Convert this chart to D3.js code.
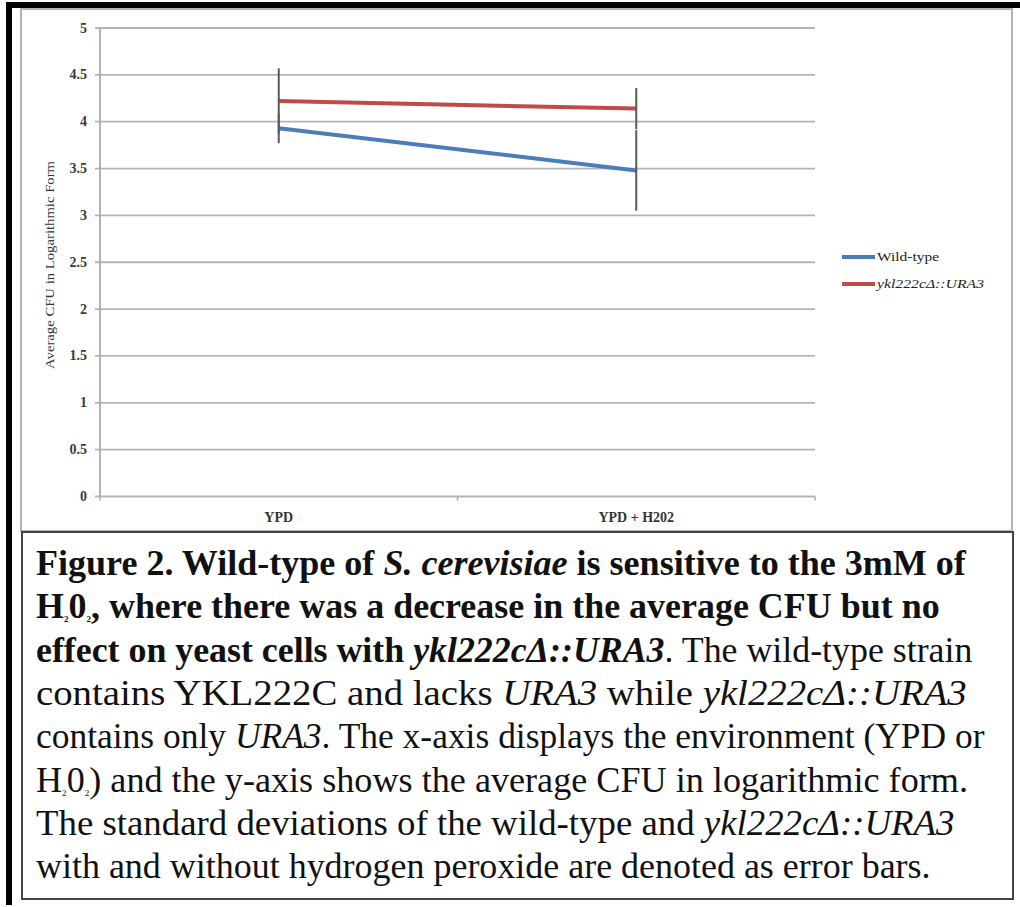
<!DOCTYPE html>
<html>
<head>
<meta charset="utf-8">
<script src="https://cdn.jsdelivr.net/npm/d3@7"></script>
<style>
  html, body { margin: 0; padding: 0; background: #fff; }
  svg { display: block; }
  text { font-family: "Liberation Serif", "Times New Roman", serif; }
</style>
</head>
<body>
<div id="chart"></div>
<script>
// chart values
const categories = ["YPD", "YPD + H202"];
const wildType = [3.93, 3.48];
const wildTypeSD = [0.16, 0.43];
const mutant = [4.22, 4.14];
const mutantSD = [0.35, 0.22];
const yTicks = [0, 0.5, 1, 1.5, 2, 2.5, 3, 3.5, 4, 4.5, 5];
const seriesNames = ["Wild-type", "ykl222cΔ::URA3"];
const seriesColors = ["#4a7ebb", "#be4b48"];

// caption lines: [text, bold, italic, sub]
const captionLines = [
  [["Figure 2. Wild-type of ", 1, 0], ["S. cerevisiae", 1, 1], [" is sensitive to the 3mM of", 1, 0]],
  [["H", 1, 0], ["2", 1, 0, 1], ["0", 1, 0], ["2", 1, 0, 1], [", where there was a decrease in the average CFU but no", 1, 0]],
  [["effect on yeast cells with ", 1, 0], ["ykl222cΔ::URA3", 1, 1], [". The wild-type strain", 0, 0]],
  [["contains YKL222C and lacks ", 0, 0], ["URA3", 0, 1], [" while ", 0, 0], ["ykl222cΔ::URA3", 0, 1]],
  [["contains only ", 0, 0], ["URA3", 0, 1], [". The x-axis displays the environment (YPD or", 0, 0]],
  [["H", 0, 0], ["2", 0, 0, 1], ["0", 0, 0], ["2", 0, 0, 1], [") and the y-axis shows the average CFU in logarithmic form.", 0, 0]],
  [["The standard deviations of the wild-type and ", 0, 0], ["ykl222cΔ::URA3", 0, 1]],
  [["with and without hydrogen peroxide are denoted as error bars.", 0, 0]]
];
const captionEnds = [966, 940, 973, 967, 985, 968, 955, 931];

const width = 1020, height = 907;
const svg = d3.select("#chart").append("svg")
    .attr("width", width)
    .attr("height", height);

// outer frame bits
svg.append("rect").attr("x", 6).attr("y", 2).attr("width", 1014).attr("height", 6).attr("fill", "#000");
svg.append("rect").attr("x", 6).attr("y", 2).attr("width", 6).attr("height", 903).attr("fill", "#000");
svg.append("rect")
    .attr("x", 21).attr("y", 9).attr("width", 991).attr("height", 522)
    .attr("fill", "#fff").attr("stroke", "#b3b3b3").attr("stroke-width", 2);

const x = d3.scaleBand().domain(categories).range([100, 815]);
const y = d3.scaleLinear().domain([0, 5]).range([496.5, 28]);
const cx = d => x(d) + x.bandwidth() / 2;

// grid
svg.append("g").selectAll("line")
    .data(yTicks)
    .enter().append("line")
    .attr("x1", 95).attr("x2", 815)
    .attr("y1", d => y(d)).attr("y2", d => y(d))
    .attr("stroke", "#b5b5b5")
    .attr("stroke-width", 1.8);

// y axis line
svg.append("line")
    .attr("x1", 100).attr("x2", 100)
    .attr("y1", y(5)).attr("y2", y(0))
    .attr("stroke", "#aaa").attr("stroke-width", 1.8);
// x axis ticks
svg.append("g").selectAll("line")
    .data([100, 457.5, 815])
    .enter().append("line")
    .attr("x1", d => d).attr("x2", d => d)
    .attr("y1", y(0)).attr("y2", y(0) + 4)
    .attr("stroke", "#aaa").attr("stroke-width", 1.5);

// y tick labels
svg.append("g").selectAll("text")
    .data(yTicks)
    .enter().append("text")
    .attr("x", 87)
    .attr("y", d => y(d) + 4.5)
    .attr("text-anchor", "end")
    .attr("font-weight", "bold")
    .attr("font-size", 14)
    .attr("fill", "#3a3a3a")
    .text(d => d);

// x labels
svg.append("g").selectAll("text")
    .data(categories)
    .enter().append("text")
    .attr("x", d => cx(d))
    .attr("y", 522)
    .attr("text-anchor", "middle")
    .attr("font-weight", "bold")
    .attr("font-size", 14)
    .attr("fill", "#333")
    .text(d => d);

// y title
svg.append("text")
    .attr("transform", "translate(54,265) rotate(-90)")
    .attr("text-anchor", "middle")
    .attr("font-size", 12)
    .attr("fill", "#333")
    .attr("textLength", 208)
    .attr("lengthAdjust", "spacingAndGlyphs")
    .text("Average CFU in Logarithmic Form");

// lines
const series = [wildType, mutant];
const sds = [wildTypeSD, mutantSD];
const line = d3.line()
    .x((d, i) => cx(categories[i]))
    .y(d => y(d));
series.forEach((s, k) => {
    svg.append("path")
        .datum(s)
        .attr("fill", "none")
        .attr("stroke", seriesColors[k])
        .attr("stroke-width", 4)
        .attr("d", line);
});

// error bars
series.forEach((s, k) => {
    svg.append("g").selectAll("line")
        .data(s)
        .enter().append("line")
        .attr("x1", (d, i) => cx(categories[i]))
        .attr("x2", (d, i) => cx(categories[i]))
        .attr("y1", (d, i) => y(d + sds[k][i]))
        .attr("y2", (d, i) => y(d - sds[k][i]))
        .attr("stroke", "#5a5a5a")
        .attr("stroke-width", 2);
});

// legend
const legend = svg.append("g");
seriesNames.forEach((n, k) => {
    const ly = 257 + k * 27;
    legend.append("line")
        .attr("x1", 842).attr("x2", 875)
        .attr("y1", ly).attr("y2", ly)
        .attr("stroke", seriesColors[k]).attr("stroke-width", 4);
    legend.append("text")
        .attr("x", 877).attr("y", ly + 4)
        .attr("font-size", 13)
        .attr("font-style", k === 1 ? "italic" : "normal")
        .attr("fill", "#222")
        .attr("textLength", k === 1 ? 107 : 62)
        .attr("lengthAdjust", "spacingAndGlyphs")
        .text(n);
});

// caption box
svg.append("rect")
    .attr("x", 22).attr("y", 532).attr("width", 991).attr("height", 367)
    .attr("fill", "#fff").attr("stroke", "#444").attr("stroke-width", 2);

captionLines.forEach((segs, i) => {
    const t = svg.append("text")
        .attr("font-size", 36)
        .attr("fill", "#111");
    segs.forEach((s, j) => {
        const ts = t.append("tspan")
            .attr("font-weight", s[1] ? "bold" : "normal")
            .attr("font-style", s[2] ? "italic" : "normal")
            .text(s[0]);
        if (s[3]) ts.attr("font-size", 9).attr("dy", 4);
        else if (j > 0 && segs[j - 1][3]) ts.attr("dy", -4);
    });
    const w = t.node().getComputedTextLength();
    const sx = (captionEnds[i] - 36) / w;
    t.attr("transform", `translate(36,${575 + i * 43.3}) scale(${sx},1)`);
});
</script>
</body>
</html>
